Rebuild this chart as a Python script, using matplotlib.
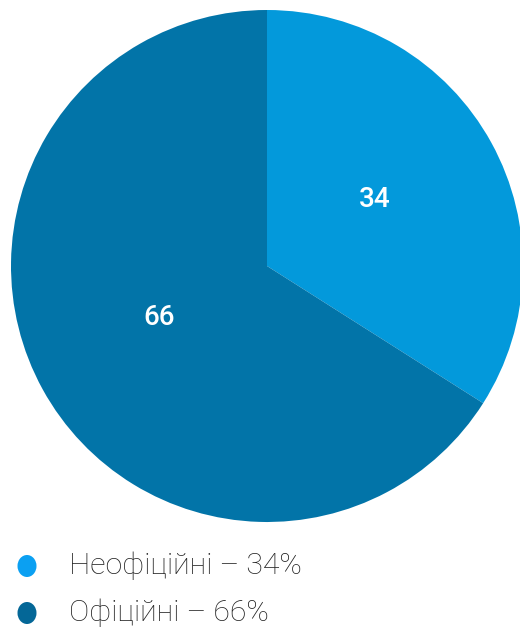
import matplotlib
matplotlib.use("Agg")
import matplotlib.pyplot as plt
from matplotlib.patches import Ellipse

categories = ["Неофіційні", "Офіційні"]
values = [34, 66]
pie_colors = ["#0399DB", "#0274A8"]
legend_colors = ["#0BA0F2", "#046797"]

W, H = 520, 635
fig = plt.figure(figsize=(W / 100, H / 100), dpi=100)
fig.patch.set_facecolor("white")

cx, cy, r = 267, 266, 256
ax = fig.add_axes([(cx - r) / W, (H - cy - r) / H, 2 * r / W, 2 * r / H])
wedges, texts, autotexts = ax.pie(
    values, colors=pie_colors, startangle=90, counterclock=False,
    autopct=lambda p: f"{p:.0f}", pctdistance=0.48, radius=1,
    wedgeprops=dict(linewidth=0),
    textprops=dict(color="white", fontsize=20, family="Roboto", fontweight="medium"),
)
for t in autotexts:
    t.set_va("baseline")
ax.set_xlim(-1, 1)
ax.set_ylim(-1, 1)
ax.set_aspect("equal")
ax.axis("off")

legend_y = [566, 613]
for name, v, col, y in zip(categories, values, legend_colors, legend_y):
    e = Ellipse((27 / W, (H - y) / H), 19 / W, 22 / H, transform=fig.transFigure,
                facecolor=col, edgecolor="none")
    fig.add_artist(e)
    fig.text(69 / W, (H - y) / H, f"{name} – {v}%", fontsize=21.8, family="Roboto",
             fontweight="light", color="#222222", va="center", ha="left")

fig.savefig("out.png", dpi=100)
